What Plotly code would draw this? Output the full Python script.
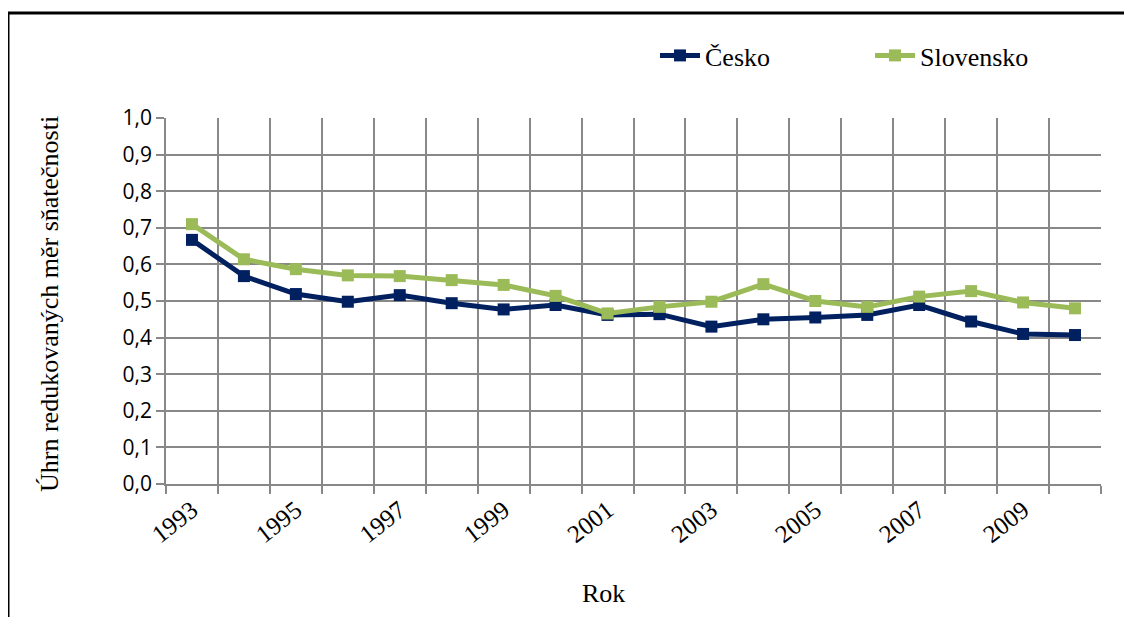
import plotly.graph_objects as go

years = list(range(1993, 2011))
cesko = [0.667, 0.568, 0.519, 0.498, 0.516, 0.494, 0.477, 0.489, 0.462, 0.464,
         0.430, 0.450, 0.455, 0.462, 0.489, 0.444, 0.410, 0.407]
slovensko = [0.710, 0.614, 0.587, 0.570, 0.568, 0.557, 0.544, 0.514, 0.466, 0.484,
             0.498, 0.546, 0.500, 0.484, 0.512, 0.527, 0.496, 0.480]
x_tick_labels = ["1993", "1995", "1997", "1999", "2001", "2003", "2005", "2007", "2009"]
x_tick_vals = [1993, 1995, 1997, 1999, 2001, 2003, 2005, 2007, 2009]

OFF = 8  # browser body margin
W, H = 1132 - 2 * OFF, 625 - 2 * OFF
# target screen coordinates of plot area
SL, SR, ST, SB = 166, 1101, 118, 484
L, R, T, B = SL - OFF, SR - OFF, ST - OFF, SB - OFF

def px_x(sx):
    return (sx - SL) / (SR - SL)

def px_y(sy):
    return (SB - sy) / (SB - ST)

fig = go.Figure()
fig.add_trace(go.Scatter(x=years, y=cesko, name="Česko", mode="lines+markers",
                         line=dict(color="#002060", width=5),
                         marker=dict(symbol="square", size=12, color="#002060")))
fig.add_trace(go.Scatter(x=years, y=slovensko, name="Slovensko", mode="lines+markers",
                         line=dict(color="#9BBB59", width=5),
                         marker=dict(symbol="square", size=12, color="#9BBB59")))

grid = "#888888"
fig.update_layout(
    width=W, height=H,
    margin=dict(l=L, r=W - R, t=T, b=H - B),
    paper_bgcolor="white", plot_bgcolor="white",
    separators=",.",
    showlegend=True,
    legend=dict(orientation="h", x=px_x(655), y=px_y(32), xanchor="left", yanchor="top",
                font=dict(family="Liberation Serif", size=26, color="black"),
                entrywidth=160, itemwidth=40, bgcolor="rgba(0,0,0,0)"),
    xaxis=dict(range=[1992.5, 2010.5], tickvals=x_tick_vals, ticktext=x_tick_labels,
               tickangle=-38, showgrid=False, ticks="", showline=True,
               linecolor=grid, linewidth=1.5, zeroline=False,
               tickfont=dict(family="Liberation Serif", size=25, color="black"),
               minor=dict(tick0=1992.5, dtick=1, showgrid=True, gridcolor=grid,
                          gridwidth=1.5, ticks="outside", ticklen=8, tickcolor=grid,
                          tickwidth=1.5)),
    yaxis=dict(range=[0, 1.0], dtick=0.1, tickformat=".1f", showgrid=True,
               gridcolor=grid, gridwidth=1.5, ticks="outside", ticklen=8,
               tickcolor=grid, tickwidth=1.5, showline=True, linecolor=grid,
               linewidth=1.5, zeroline=False,
               tickfont=dict(family="Open Sans", size=21, color="black")),
    shapes=[dict(type="rect", xref="paper", yref="paper",
                 x0=px_x(8), x1=px_x(1126), y0=px_y(640), y1=px_y(13),
                 line=dict(color="black", width=3), fillcolor="rgba(0,0,0,0)", layer="below")],
    annotations=[
        dict(text="Rok", xref="paper", yref="paper", x=px_x(603), y=px_y(593),
             xanchor="center", yanchor="middle", showarrow=False,
             font=dict(family="Liberation Serif", size=26, color="black")),
        dict(text="Úhrn redukovaných měr sňatečnosti", xref="paper", yref="paper",
             x=px_x(49), y=px_y(304), xanchor="center", yanchor="middle",
             textangle=-90, showarrow=False,
             font=dict(family="Liberation Serif", size=26, color="black")),
    ],
)

fig.write_html("out.html")
